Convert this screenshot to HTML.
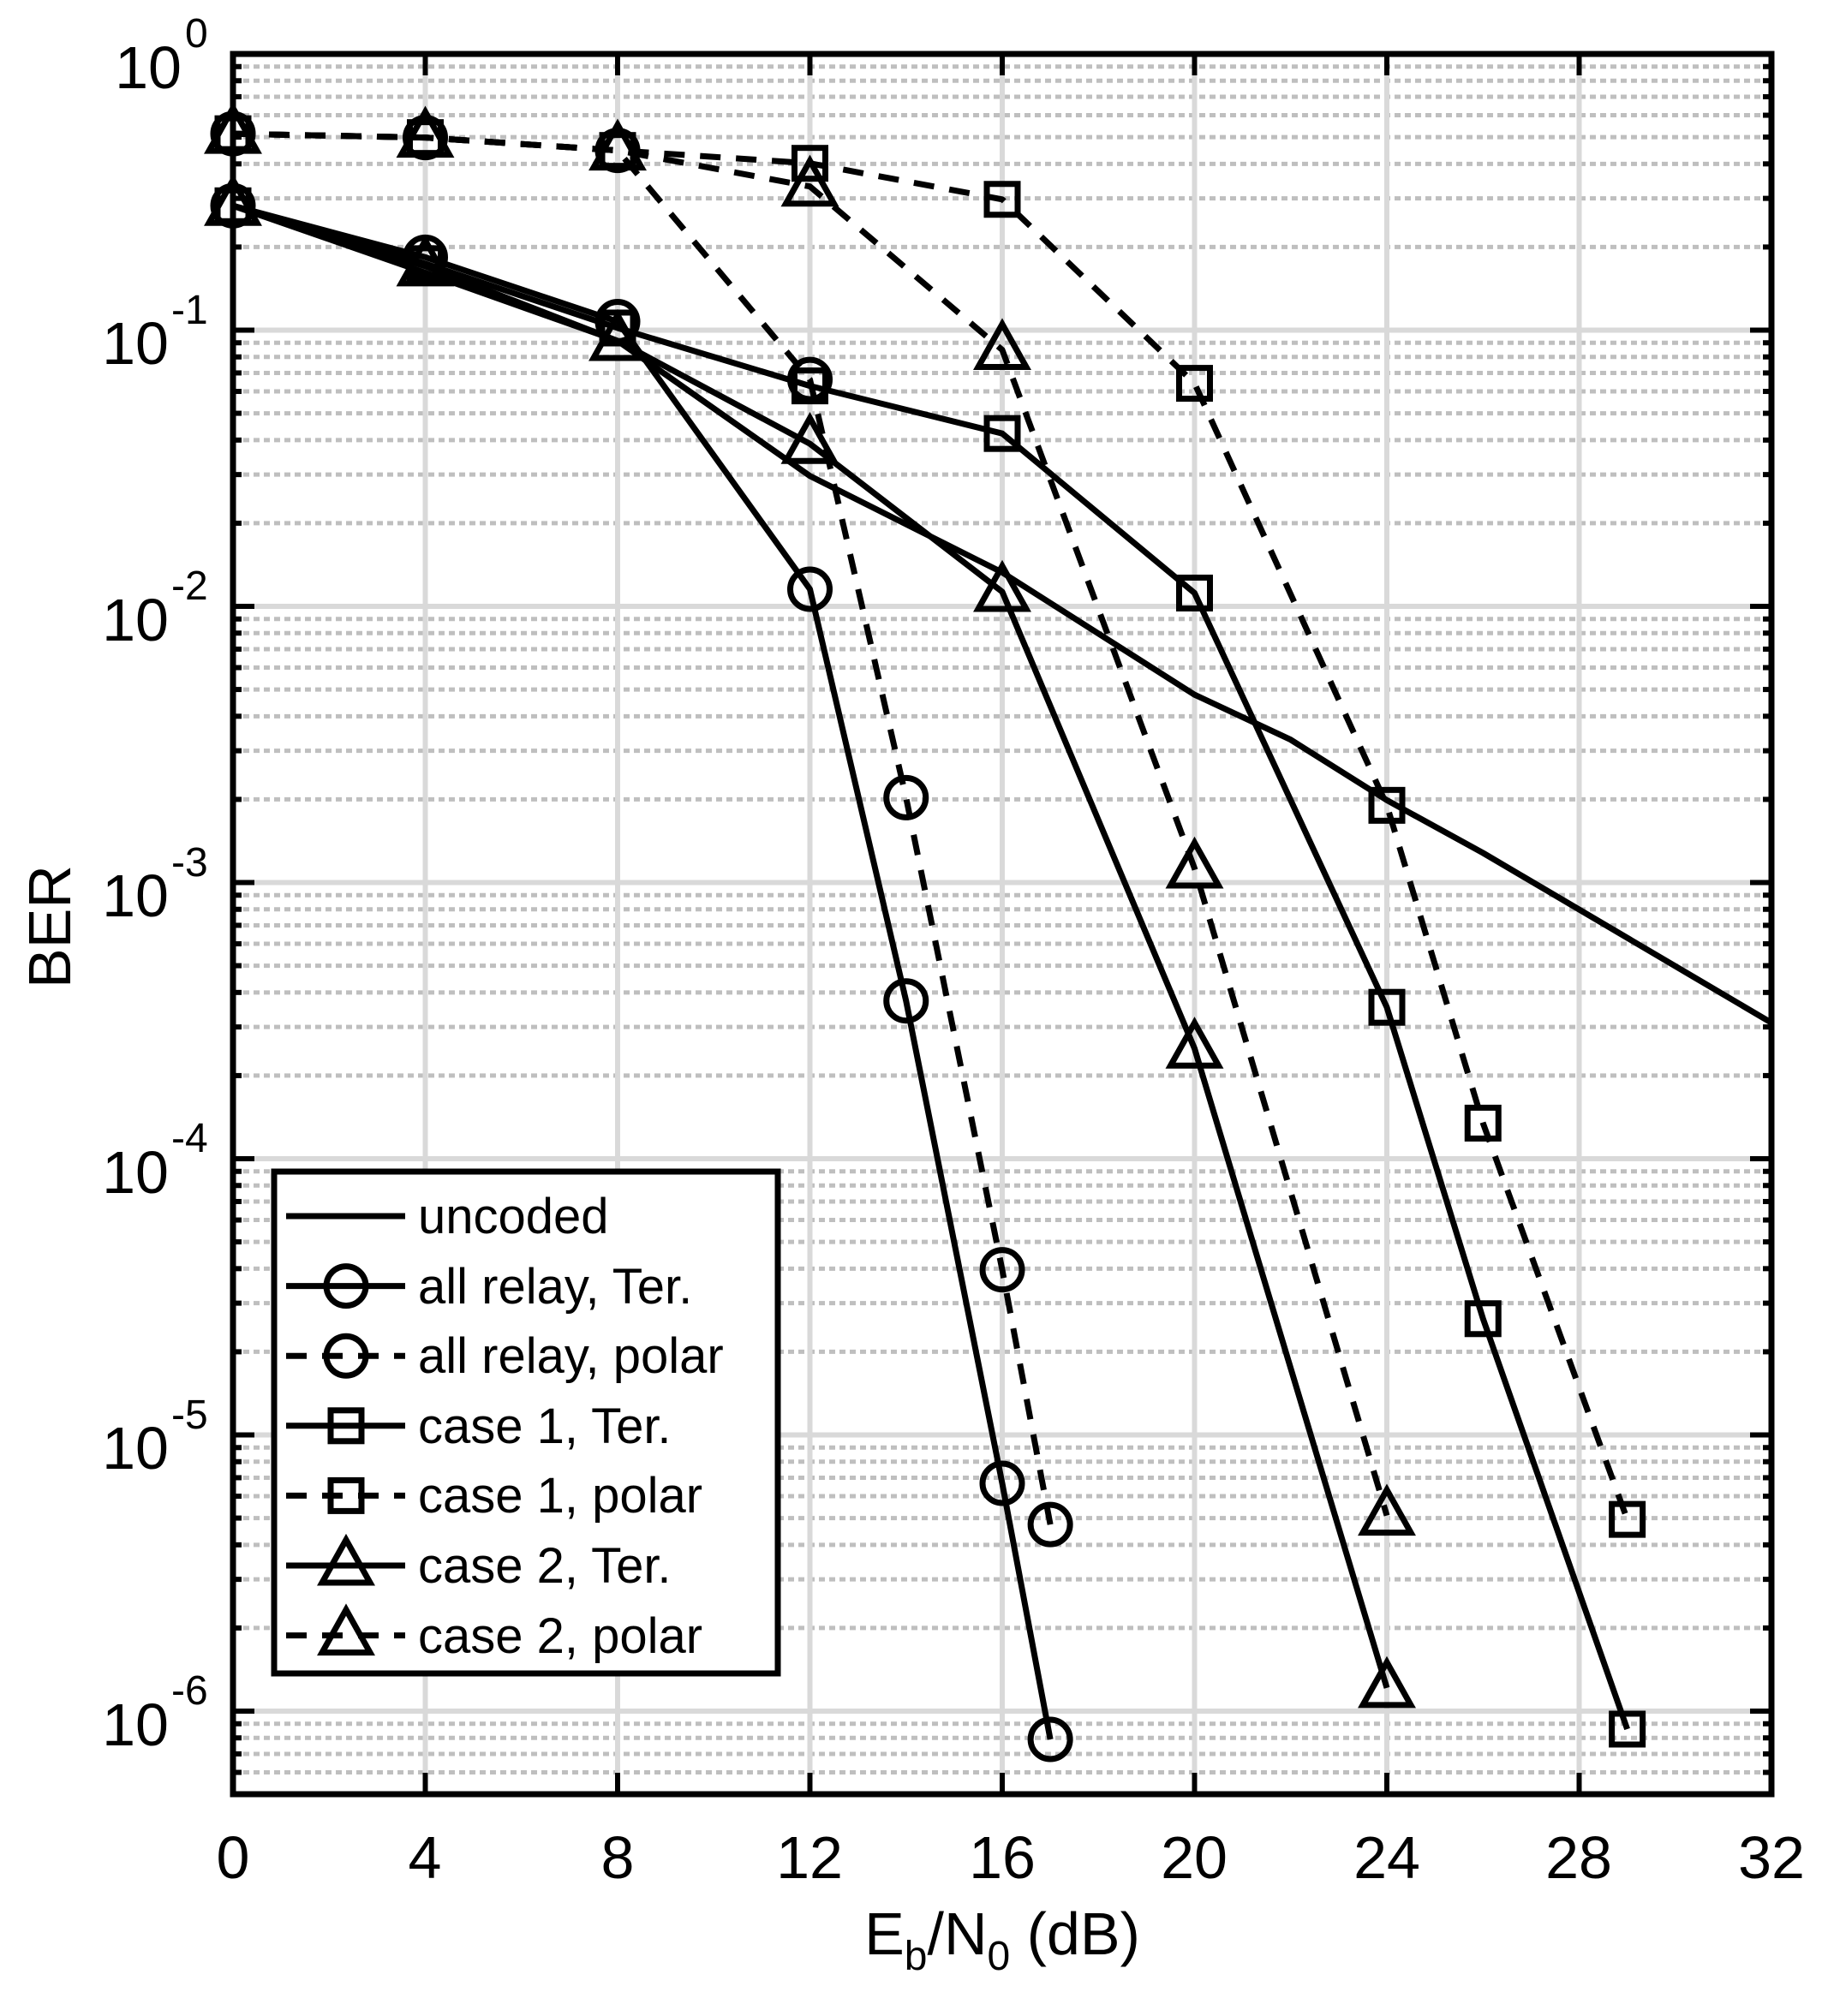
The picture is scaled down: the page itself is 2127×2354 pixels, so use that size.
<!DOCTYPE html>
<html><head><meta charset="utf-8"><style>
html,body{margin:0;padding:0;background:#fff;}
svg{display:block;font-family:"Liberation Sans",Arial,sans-serif;}
</style></head><body>
<svg id="s" width="2127" height="2354" viewBox="0 0 2127 2354" xmlns="http://www.w3.org/2000/svg">
<rect width="2127" height="2354" fill="#fff"/>
<g id="grid"></g>
<g id="series"></g>
<g id="axes"></g>
<!-- legend -->
<rect x="320" y="1368" width="588" height="586" fill="#fff" stroke="#000" stroke-width="7"/>
<g id="leg"></g>
<g font-size="58" fill="#000">
<text x="488" y="1440">uncoded</text>
<text x="488" y="1522">all relay, Ter.</text>
<text x="488" y="1603">all relay, polar</text>
<text x="488" y="1685">case 1, Ter.</text>
<text x="488" y="1766">case 1, polar</text>
<text x="488" y="1848">case 2, Ter.</text>
<text x="488" y="1930">case 2, polar</text>
</g>
<!-- x tick labels -->
<g font-size="70" text-anchor="middle" fill="#000">
<text x="272" y="2193">0</text>
<text x="496" y="2193">4</text>
<text x="721" y="2193">8</text>
<text x="945" y="2193">12</text>
<text x="1170" y="2193">16</text>
<text x="1394" y="2193">20</text>
<text x="1619" y="2193">24</text>
<text x="1843" y="2193">28</text>
<text x="2068" y="2193">32</text>
</g>
<!-- y tick labels -->
<g font-size="70" fill="#000">
<text x="212" y="103" text-anchor="end">10</text><text x="216" y="55" font-size="48">0</text>
<text x="197" y="425" text-anchor="end">10</text><text x="200" y="378" font-size="48">-1</text>
<text x="197" y="748" text-anchor="end">10</text><text x="200" y="700" font-size="48">-2</text>
<text x="197" y="1070" text-anchor="end">10</text><text x="200" y="1023" font-size="48">-3</text>
<text x="197" y="1393" text-anchor="end">10</text><text x="200" y="1345" font-size="48">-4</text>
<text x="197" y="1715" text-anchor="end">10</text><text x="200" y="1668" font-size="48">-5</text>
<text x="197" y="2038" text-anchor="end">10</text><text x="200" y="1990" font-size="48">-6</text>
</g>
<text font-size="70" transform="translate(82,1082) rotate(-90)" text-anchor="middle">BER</text>
<text x="1170" y="2282" font-size="70" text-anchor="middle">E<tspan font-size="48" dy="18">b</tspan><tspan dy="-18">/N</tspan><tspan font-size="48" dy="18">0</tspan><tspan dy="-18"> (dB)</tspan></text>
</svg>
<script>
const NS="http://www.w3.org/2000/svg";
const L=272,R=2068,T=63,B=2095,DX=(R-L)/32,DEC=322.5;
const X=d=>L+d*DX, Y=l=>T-l*DEC;
function el(p,t,a){const e=document.createElementNS(NS,t);for(const k in a)e.setAttribute(k,a[k]);p.appendChild(e);return e;}
const g=document.getElementById('grid'),ax=document.getElementById('axes'),sr=document.getElementById('series'),lg=document.getElementById('leg');
for(let e=0;e>-7;e--){for(let m=2;m<=9;m++){const y=Y(e-1+Math.log10(m));if(y>B-2||y<T+2)continue;
el(g,'line',{x1:L,x2:R,y1:y,y2:y,stroke:'#bfbfbf','stroke-width':5,'stroke-dasharray':'7 5'});
el(ax,'line',{x1:L,x2:L+10,y1:y,y2:y,stroke:'#000','stroke-width':6});
el(ax,'line',{x1:R-10,x2:R,y1:y,y2:y,stroke:'#000','stroke-width':6});}}
for(let e=-1;e>=-6;e--){const y=Y(e);el(g,'line',{x1:L,x2:R,y1:y,y2:y,stroke:'#d9d9d9','stroke-width':6});
el(ax,'line',{x1:L,x2:L+25,y1:y,y2:y,stroke:'#000','stroke-width':6});el(ax,'line',{x1:R-25,x2:R,y1:y,y2:y,stroke:'#000','stroke-width':6});}
for(let d=4;d<32;d+=4){const x=X(d);el(g,'line',{x1:x,x2:x,y1:T,y2:B,stroke:'#d9d9d9','stroke-width':6});
el(ax,'line',{x1:x,x2:x,y1:T,y2:T+25,stroke:'#000','stroke-width':6});el(ax,'line',{x1:x,x2:x,y1:B-25,y2:B,stroke:'#000','stroke-width':6});}
el(ax,'rect',{x:L,y:T,width:R-L,height:B-T,fill:'none',stroke:'#000','stroke-width':7});
const ly=y=>-(y-42)/214.67;
function mk(p,type,x,y){const a={fill:'none',stroke:'#000','stroke-width':7};
if(type==='o')el(p,'circle',Object.assign({cx:x,cy:y,r:23},a));
if(type==='s')el(p,'rect',Object.assign({x:x-18,y:y-18,width:36,height:36},a));
if(type==='t')el(p,'polygon',Object.assign({points:`${x},${y-30} ${x-28},${y+20} ${x+28},${y+20}`},a));}
const S=[
{m:'',d:false,p:[[0,160],[4,212],[8,265],[12,370],[16,445],[20,540],[22,575],[24,622],[26,663],[32,795]]},
{m:'o',d:false,p:[[0,160],[4,200],[8,250],[12,458],[14,778],[16,1153],[17,1352]]},
{m:'o',d:true,p:[[0,104],[4,107],[8,117],[12,295],[14,620],[16,987],[17,1185]]},
{m:'s',d:false,p:[[0,160],[4,205],[8,255],[12,300],[16,337],[20,461],[24,783],[26,1025],[29,1344]]},
{m:'s',d:true,p:[[0,104],[4,107],[8,117],[12,127],[16,155],[20,298],[24,626],[26,873],[29,1181]]},
{m:'t',d:false,p:[[0,160],[4,207],[8,265],[12,345],[16,460],[20,815],[24,1312]]},
{m:'t',d:true,p:[[0,104],[4,107],[8,117],[12,145],[16,272],[20,675],[24,1178]]}];
S.forEach((s,i)=>{const pts=s.p.map(([d,y])=>[X(d),Y(ly(y))]);
const a={points:pts.map(p=>p.join(',')).join(' '),fill:'none',stroke:'#000','stroke-width':7,'stroke-linejoin':'round'};
if(s.d)a['stroke-dasharray']='24 18';el(sr,'polyline',a);
if(s.m)pts.forEach(p=>mk(sr,s.m,p[0],p[1]));
const yy=1420+i*81.6;const b={x1:334,x2:473,y1:yy,y2:yy,stroke:'#000','stroke-width':7};if(s.d)b['stroke-dasharray']='24 18';el(lg,'line',b);
if(s.m)mk(lg,s.m,404,yy);});
</script>
</body></html>
